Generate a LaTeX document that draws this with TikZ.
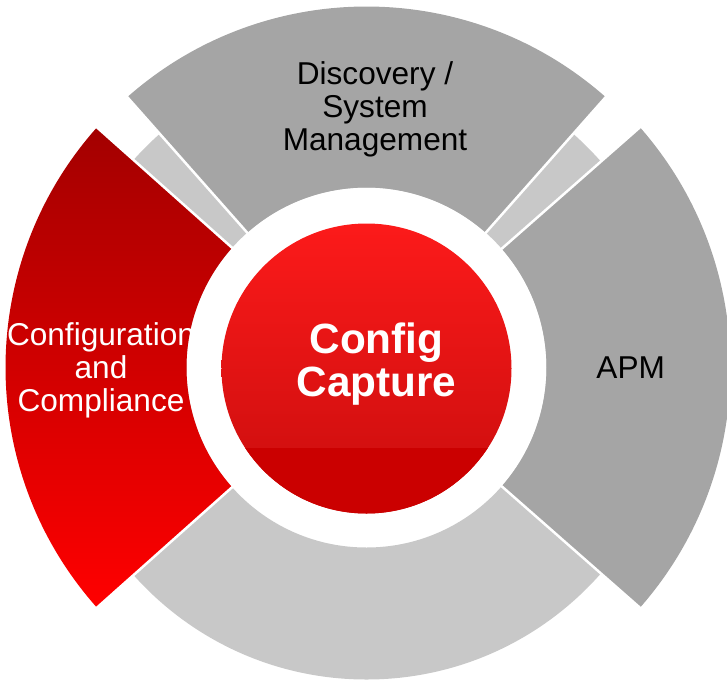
\documentclass[tikz,border=0pt]{standalone}
\usepackage{fontspec}
\setmainfont{Liberation Sans}
\definecolor{sectorgray}{RGB}{165,165,165}
\definecolor{ringgray}{RGB}{200,200,200}
\definecolor{redtop}{RGB}{163,0,0}
\definecolor{redbottom}{RGB}{255,0,0}
\definecolor{hubtop}{RGB}{252,26,26}
\definecolor{hubmid}{RGB}{200,13,13}
\definecolor{hubbase}{RGB}{203,0,0}
\begin{document}
\begin{tikzpicture}[x=1pt,y=1pt,
  seglabel/.style={font=\fontsize{31.6}{33}\selectfont, align=center, inner sep=0pt},
  hubtext/.style={font=\bfseries\fontsize{42.3}{43.4}\selectfont, text=white, align=center, inner sep=0pt},
  divider/.style={white, line width=2.5pt}]
\useasboundingbox (-366.5,-313.5) rectangle (360.5,367.5);

% light gray ring underneath (bottom segment and the two narrow slivers)
\fill[ringgray, even odd rule] (0,0) circle[radius=312pt] (0,0) circle[radius=180pt];

% top segment
\fill[sectorgray] (48.5:180pt) -- (48.5:361pt)
  arc[start angle=48.5, end angle=131.5, radius=361pt] -- (131.5:180pt)
  arc[start angle=131.5, end angle=48.5, radius=180pt] -- cycle;

% right segment
\fill[sectorgray] (-41.3:180pt) -- (-41.3:364pt)
  arc[start angle=-41.3, end angle=41.3, radius=364pt] -- (41.3:180pt)
  arc[start angle=41.3, end angle=-41.3, radius=180pt] -- cycle;

% left segment, red gradient
\shade[top color=redtop, bottom color=redbottom] (138.3:180pt) -- (138.3:361pt)
  arc[start angle=138.3, end angle=221.7, radius=361pt] -- (221.7:180pt)
  arc[start angle=221.7, end angle=138.3, radius=180pt] -- cycle;

% white separators between the segments
\foreach \a in {41.3,48.5,131.5,138.3,221.7,318.7}
  \draw[divider] (\a:170pt) -- (\a:370pt);

% central hub
\shade[top color=hubtop, bottom color=hubmid] (0,-1) circle[radius=145pt];
\begin{scope}
  \clip (0,-1) circle[radius=145pt];
  \fill[hubbase] (-150,-80.5) rectangle (150,-150);
\end{scope}

% labels
\node[seglabel] (discovery) at (8.5,258.5) {Discovery /\\System\\Management};
\node[seglabel, text=white] (compliance) at (-265.5,-2.4) {Configuration\\and\\Compliance};
\node[seglabel, anchor=base] (apm) at (264.2,-10.8) {APM};
\node[hubtext] (hub) at (10,3.5) {Config\\Capture};
\end{tikzpicture}
\end{document}
